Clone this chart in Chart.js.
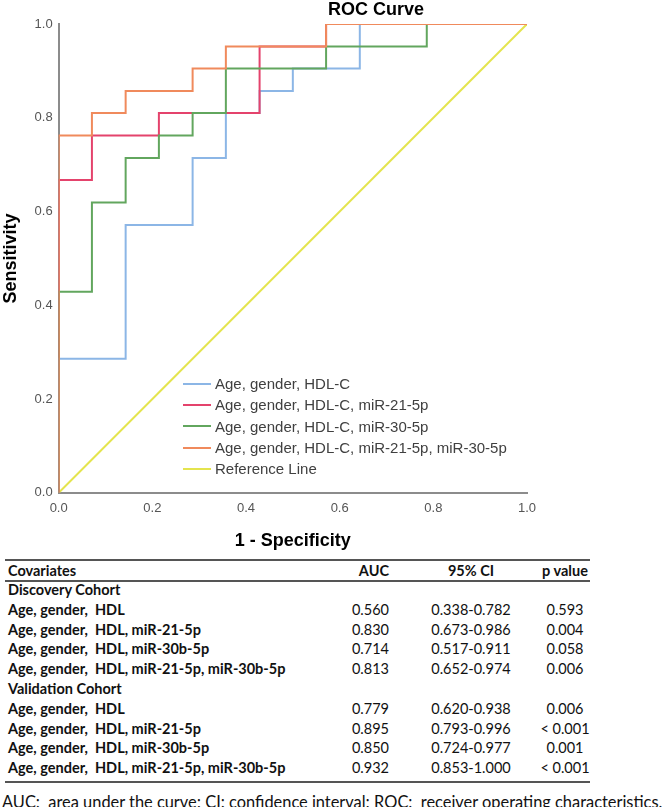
<!DOCTYPE html>
<html>
<head>
<meta charset="utf-8">
<script src="https://cdn.jsdelivr.net/npm/chart.js@4/dist/chart.umd.min.js"></script>
<style>
  body { margin: 0; background: #fff; width: 663px; height: 807px; position: relative; overflow: hidden; font-family: "Liberation Sans", Arial, sans-serif; }
  #chartBox { position: absolute; left: 0; top: 0; }
  #title { position: absolute; left: 328px; top: 0; font-weight: bold; font-size: 18px; line-height: 18px; color: #000; }
  #legend { position: absolute; left: 183px; top: 373px; font-size: 15px; color: #404040; }
  #legend .item { height: 21.3px; display: flex; align-items: center; white-space: nowrap; }
  #legend .sw { width: 28px; height: 2px; margin-right: 4px; }
  .tbl { font-family: Lato, sans-serif; font-size: 14.5px; color: #111; }
  .rule { position: absolute; left: 5px; width: 585px; height: 2px; background: #555; }
  .row { position: absolute; left: 0; width: 663px; height: 20px; line-height: 20px; }
  .row span { position: absolute; top: 0; white-space: pre; }
  .lab { left: 8px; font-weight: bold; }
  .auc { right: 274px; }
  .ci { left: 421px; width: 100px; text-align: center; }
  .p { left: 515px; width: 100px; text-align: center; }
  #foot { position: absolute; left: 2px; top: 792px; white-space: pre; line-height: 20px; font-size: 16.4px; }
</style>
</head>
<body>
<canvas id="chartBox" width="663" height="556"></canvas>
<div id="title">ROC Curve</div>
<div id="legend"></div>
<div id="table" class="tbl"></div>
<script>
// ROC curves (1 - specificity, sensitivity), corner points
const seriesNames = [
  "Age, gender, HDL-C",
  "Age, gender, HDL-C, miR-21-5p",
  "Age, gender, HDL-C, miR-30-5p",
  "Age, gender, HDL-C, miR-21-5p, miR-30-5p",
  "Reference Line"
];
const seriesColors = ["#8cb6e6", "#e4436c", "#62a65e", "#f08a5c", "#e4e44e"];

const fprHdl = [0, 0, 0.143, 0.143, 0.286, 0.286, 0.357, 0.357, 0.429, 0.429, 0.5, 0.5, 0.643, 0.643, 1];
const tprHdl = [0, 0.286, 0.286, 0.571, 0.571, 0.714, 0.714, 0.810, 0.810, 0.857, 0.857, 0.905, 0.905, 1, 1];

const fpr21 = [0, 0, 0.071, 0.071, 0.214, 0.214, 0.429, 0.429, 0.571, 0.571, 1];
const tpr21 = [0, 0.667, 0.667, 0.762, 0.762, 0.810, 0.810, 0.952, 0.952, 1, 1];

const fpr30 = [0, 0, 0.071, 0.071, 0.143, 0.143, 0.214, 0.214, 0.286, 0.286, 0.357, 0.357, 0.571, 0.571, 0.786, 0.786, 1];
const tpr30 = [0, 0.429, 0.429, 0.619, 0.619, 0.714, 0.714, 0.762, 0.762, 0.810, 0.810, 0.905, 0.905, 0.952, 0.952, 1, 1];

const fprBoth = [0, 0, 0.071, 0.071, 0.143, 0.143, 0.286, 0.286, 0.357, 0.357, 0.571, 0.571, 1];
const tprBoth = [0, 0.762, 0.762, 0.810, 0.810, 0.857, 0.857, 0.905, 0.905, 0.952, 0.952, 1, 1];

const fprRef = [0, 1];
const tprRef = [0, 1];

const tickValues = [0, 0.2, 0.4, 0.6, 0.8, 1.0];

// table below the chart
const tableHeader = ["Covariates", "AUC", "95% CI", "p value"];
const cohorts = ["Discovery Cohort", "Validation Cohort"];
const covariates = ["Age, gender,  HDL", "Age, gender,  HDL, miR-21-5p", "Age, gender,  HDL, miR-30b-5p", "Age, gender,  HDL, miR-21-5p, miR-30b-5p"];
const aucDiscovery = ["0.560", "0.830", "0.714", "0.813"];
const ciDiscovery = ["0.338-0.782", "0.673-0.986", "0.517-0.911", "0.652-0.974"];
const pDiscovery = ["0.593", "0.004", "0.058", "0.006"];
const aucValidation = ["0.779", "0.895", "0.850", "0.932"];
const ciValidation = ["0.620-0.938", "0.793-0.996", "0.724-0.977", "0.853-1.000"];
const pValidation = ["0.006", "< 0.001", "0.001", "< 0.001"];
const footnote = "AUC:  area under the curve; CI: confidence interval; ROC:  receiver operating characteristics.";

function toPoints(xs, ys) {
  return xs.map((x, i) => ({ x: x, y: ys[i] }));
}
const curves = [
  toPoints(fprHdl, tprHdl),
  toPoints(fpr21, tpr21),
  toPoints(fpr30, tpr30),
  toPoints(fprBoth, tprBoth),
  toPoints(fprRef, tprRef)
];
// later curves are drawn on top, reference line underneath
const drawOrder = [3, 2, 1, 0, 4];

const axisColor = "#8c8c8c";
const tickFont = { family: "Liberation Sans", size: 13 };
const titleFont = { family: "Liberation Sans", size: 18, weight: "bold" };

const ctx = document.getElementById("chartBox").getContext("2d");
const chart = new Chart(ctx, {
  type: "scatter",
  data: {
    datasets: curves.map((pts, i) => ({
      label: seriesNames[i],
      data: pts,
      showLine: true,
      borderColor: seriesColors[i],
      backgroundColor: seriesColors[i],
      borderWidth: 2,
      pointRadius: 0,
      fill: false,
      tension: 0,
      order: drawOrder[i],
    })),
  },
  options: {
    responsive: false,
    animation: false,
    layout: { padding: { left: 0, top: 24, right: 136, bottom: 4 } },
    plugins: {
      legend: { display: false },
      tooltip: { enabled: false },
    },
    scales: {
      x: {
        type: "linear",
        min: 0,
        max: 1,
        afterBuildTicks: (axis) => { axis.ticks = tickValues.map((v) => ({ value: v })); },
        ticks: { callback: (v) => v.toFixed(1), color: "#555", font: tickFont, padding: 8, maxRotation: 0 },
        grid: { display: false, drawTicks: false },
        border: { color: axisColor, width: 2 },
        title: { display: true, text: "1 - Specificity", color: "#000", font: titleFont, padding: { top: 6, bottom: 0 } },
      },
      y: {
        type: "linear",
        min: 0,
        max: 1,
        afterBuildTicks: (axis) => { axis.ticks = tickValues.map((v) => ({ value: v })); },
        ticks: { callback: (v) => v.toFixed(1), color: "#555", font: tickFont, padding: 6 },
        grid: { display: false, drawTicks: false },
        border: { color: axisColor, width: 2 },
        title: { display: true, text: "Sensitivity", color: "#000", font: titleFont, padding: { top: 0, bottom: 7 } },
      },
    },
  },
});

// legend inside the plot, from the datasets
const legendEl = document.getElementById("legend");
chart.data.datasets.forEach((ds) => {
  const item = document.createElement("div");
  item.className = "item";
  item.innerHTML = '<span class="sw" style="background:' + ds.borderColor + '"></span><span></span>';
  item.lastChild.textContent = ds.label;
  legendEl.appendChild(item);
});

// table
const tbl = document.getElementById("table");
function addRule(top) {
  const r = document.createElement("div");
  r.className = "rule";
  r.style.top = top + "px";
  tbl.appendChild(r);
}
function addRow(center, cells, boldAll) {
  const row = document.createElement("div");
  row.className = "row";
  row.style.top = (center - 10) + "px";
  const classes = ["lab", "auc", "ci", "p"];
  cells.forEach((c, i) => {
    if (c == null) return;
    const s = document.createElement("span");
    s.className = classes[i];
    if (boldAll) s.style.fontWeight = "bold";
    s.textContent = c;
    row.appendChild(s);
  });
  tbl.appendChild(row);
}
addRule(559);
addRow(570.5, tableHeader, true);
addRule(580);
const rowStep = 19.8;
let y = 590;
[[aucDiscovery, ciDiscovery, pDiscovery], [aucValidation, ciValidation, pValidation]].forEach((grp, g) => {
  addRow(y, [cohorts[g], null, null, null]);
  y += rowStep;
  covariates.forEach((cov, i) => {
    addRow(y, [cov, grp[0][i], grp[1][i], grp[2][i]]);
    y += rowStep;
  });
});
addRule(781);
const foot = document.createElement("div");
foot.id = "foot";
foot.textContent = footnote;
tbl.appendChild(foot);
</script>
</body>
</html>
